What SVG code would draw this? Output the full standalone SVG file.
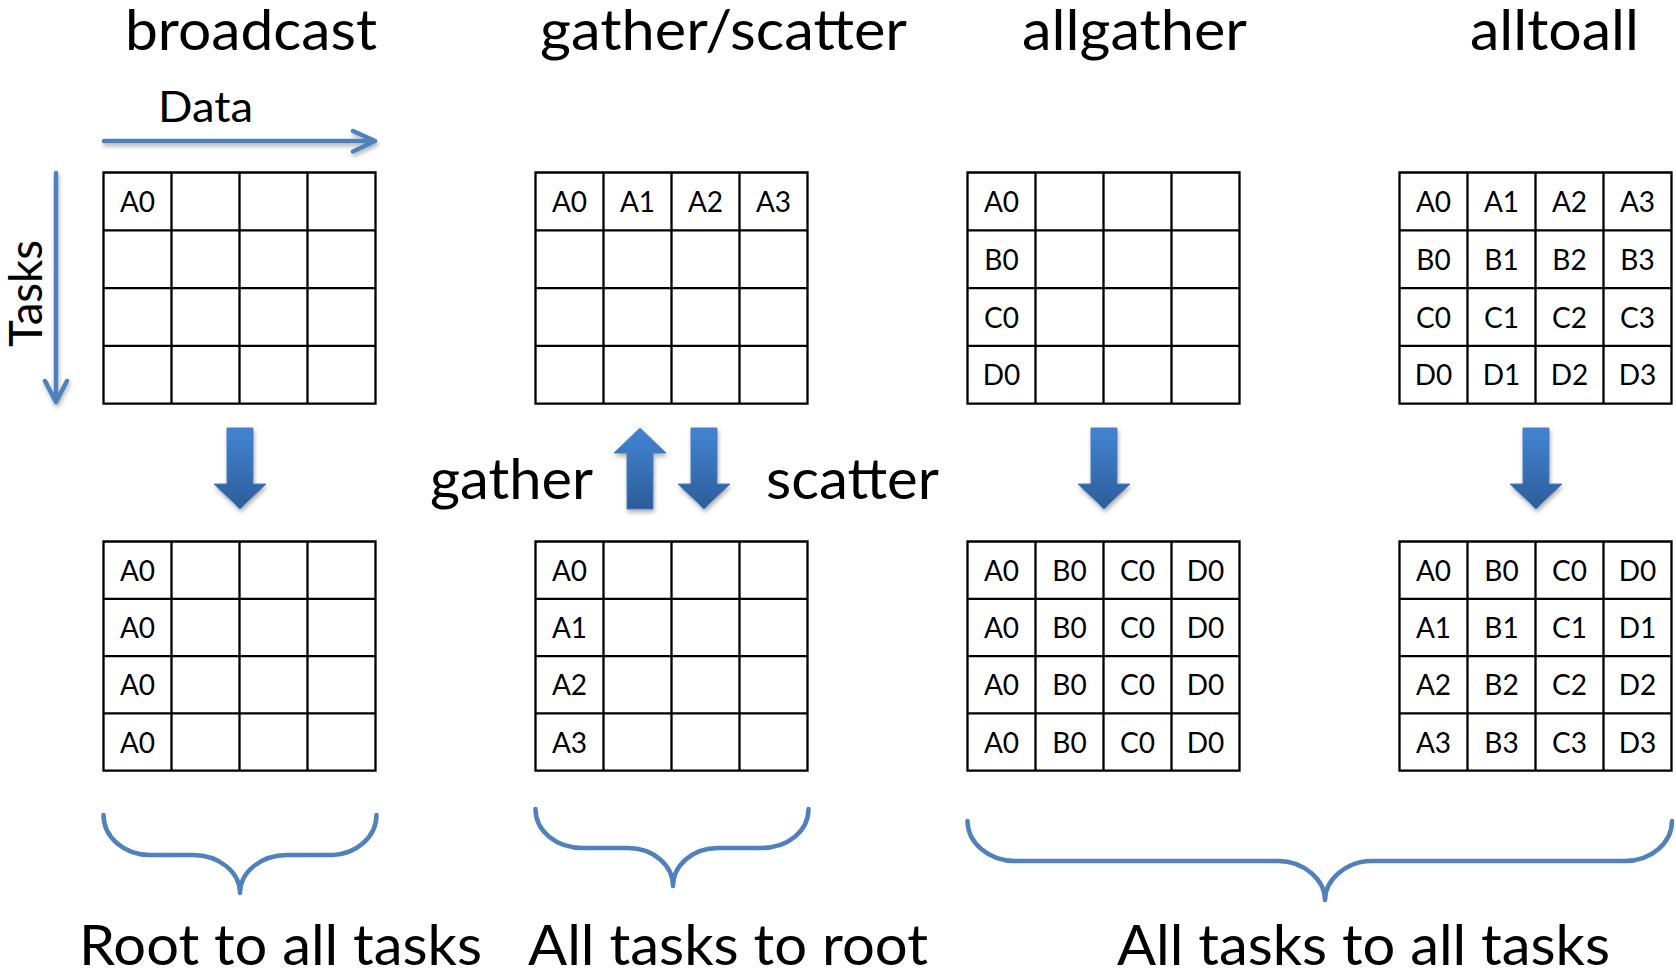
<svg xmlns="http://www.w3.org/2000/svg" xmlns:xlink="http://www.w3.org/1999/xlink" width="1676" height="972" viewBox="0 0 1676 972">
<style>
text{font-family:Lato,"Open Sans","Liberation Sans",sans-serif;fill:#000}
.cell{font-size:28px;text-anchor:middle}
.title{font-size:56px}
.big{font-size:57px}
.grid{fill:none;stroke:#000;stroke-width:2.3;stroke-linecap:square}
.blue{fill:none;stroke:#4F81BD;stroke-width:4.5;stroke-linecap:round;stroke-linejoin:round}
.block{fill:url(#bg);stroke:#4A7EBB;stroke-width:1}
</style>
<defs>
<linearGradient id="bg" x1="0" y1="0" x2="0" y2="1">
<stop offset="0" stop-color="#4285D4"/>
<stop offset="1" stop-color="#2D5C9A"/>
</linearGradient>
<filter id="sh" x="-30%" y="-30%" width="160%" height="160%">
<feDropShadow dx="1" dy="3" stdDeviation="2" flood-color="#000" flood-opacity="0.3"/>
</filter>
<path id="gT" class="grid" d="M0,0H272V231.2H0Z M68,0V231.2 M136,0V231.2 M204,0V231.2 M0,57.8H272 M0,115.6H272 M0,173.4H272"/>
<path id="gB" class="grid" d="M0,0H272V229.2H0Z M68,0V229.2 M136,0V229.2 M204,0V229.2 M0,57.3H272 M0,114.6H272 M0,171.9H272"/>
<path id="down" class="block" d="M-13,0H13V56H26L0,81L-26,56H-13Z"/>
<path id="up" class="block" d="M0,0L26,25H13V81H-13V25H-26Z"/>
</defs>

<g id="titles">
<text class="title" x="125" y="50" textLength="252" lengthAdjust="spacingAndGlyphs">broadcast</text>
<text class="title" x="540" y="50" textLength="367" lengthAdjust="spacingAndGlyphs">gather/scatter</text>
<text class="title" x="1022" y="50" textLength="225" lengthAdjust="spacingAndGlyphs">allgather</text>
<text class="title" x="1470" y="50" textLength="169" lengthAdjust="spacingAndGlyphs">alltoall</text>
</g>

<g id="axes">
<text x="158" y="122" font-size="43" textLength="95" lengthAdjust="spacingAndGlyphs">Data</text>
<text transform="translate(42,347) rotate(-90)" font-size="46" textLength="107" lengthAdjust="spacingAndGlyphs">Tasks</text>
<g filter="url(#sh)">
<path class="blue" d="M104,141H374 M353,131L375,141L353,151.5"/>
<path class="blue" d="M56,173V401 M45,381L56,402L67,381"/>
</g>
</g>

<g id="broadcast-before" transform="translate(103.5,172.5)">
<use xlink:href="#gT"/>
<text class="cell" x="34" y="39.4">A0</text>
</g>
<g id="gather-before" transform="translate(535.5,172.5)">
<use xlink:href="#gT"/>
<text class="cell" x="34" y="39.4">A0</text>
<text class="cell" x="102" y="39.4">A1</text>
<text class="cell" x="170" y="39.4">A2</text>
<text class="cell" x="238" y="39.4">A3</text>
</g>
<g id="allgather-before" transform="translate(967.5,172.5)">
<use xlink:href="#gT"/>
<text class="cell" x="34" y="39.4">A0</text>
<text class="cell" x="34" y="97.2">B0</text>
<text class="cell" x="34" y="155">C0</text>
<text class="cell" x="34" y="212.8">D0</text>
</g>
<g id="alltoall-before" transform="translate(1399.5,172.5)">
<use xlink:href="#gT"/>
<text class="cell" x="34" y="39.4">A0</text><text class="cell" x="102" y="39.4">A1</text><text class="cell" x="170" y="39.4">A2</text><text class="cell" x="238" y="39.4">A3</text>
<text class="cell" x="34" y="97.2">B0</text><text class="cell" x="102" y="97.2">B1</text><text class="cell" x="170" y="97.2">B2</text><text class="cell" x="238" y="97.2">B3</text>
<text class="cell" x="34" y="155">C0</text><text class="cell" x="102" y="155">C1</text><text class="cell" x="170" y="155">C2</text><text class="cell" x="238" y="155">C3</text>
<text class="cell" x="34" y="212.8">D0</text><text class="cell" x="102" y="212.8">D1</text><text class="cell" x="170" y="212.8">D2</text><text class="cell" x="238" y="212.8">D3</text>
</g>

<g id="broadcast-after" transform="translate(103.5,541.5)">
<use xlink:href="#gB"/>
<text class="cell" x="34" y="39.2">A0</text>
<text class="cell" x="34" y="96.5">A0</text>
<text class="cell" x="34" y="153.8">A0</text>
<text class="cell" x="34" y="211.1">A0</text>
</g>
<g id="gather-after" transform="translate(535.5,541.5)">
<use xlink:href="#gB"/>
<text class="cell" x="34" y="39.2">A0</text>
<text class="cell" x="34" y="96.5">A1</text>
<text class="cell" x="34" y="153.8">A2</text>
<text class="cell" x="34" y="211.1">A3</text>
</g>
<g id="allgather-after" transform="translate(967.5,541.5)">
<use xlink:href="#gB"/>
<text class="cell" x="34" y="39.2">A0</text><text class="cell" x="102" y="39.2">B0</text><text class="cell" x="170" y="39.2">C0</text><text class="cell" x="238" y="39.2">D0</text>
<text class="cell" x="34" y="96.5">A0</text><text class="cell" x="102" y="96.5">B0</text><text class="cell" x="170" y="96.5">C0</text><text class="cell" x="238" y="96.5">D0</text>
<text class="cell" x="34" y="153.8">A0</text><text class="cell" x="102" y="153.8">B0</text><text class="cell" x="170" y="153.8">C0</text><text class="cell" x="238" y="153.8">D0</text>
<text class="cell" x="34" y="211.1">A0</text><text class="cell" x="102" y="211.1">B0</text><text class="cell" x="170" y="211.1">C0</text><text class="cell" x="238" y="211.1">D0</text>
</g>
<g id="alltoall-after" transform="translate(1399.5,541.5)">
<use xlink:href="#gB"/>
<text class="cell" x="34" y="39.2">A0</text><text class="cell" x="102" y="39.2">B0</text><text class="cell" x="170" y="39.2">C0</text><text class="cell" x="238" y="39.2">D0</text>
<text class="cell" x="34" y="96.5">A1</text><text class="cell" x="102" y="96.5">B1</text><text class="cell" x="170" y="96.5">C1</text><text class="cell" x="238" y="96.5">D1</text>
<text class="cell" x="34" y="153.8">A2</text><text class="cell" x="102" y="153.8">B2</text><text class="cell" x="170" y="153.8">C2</text><text class="cell" x="238" y="153.8">D2</text>
<text class="cell" x="34" y="211.1">A3</text><text class="cell" x="102" y="211.1">B3</text><text class="cell" x="170" y="211.1">C3</text><text class="cell" x="238" y="211.1">D3</text>
</g>

<g id="connectors" filter="url(#sh)">
<use xlink:href="#down" transform="translate(240,428)"/>
<use xlink:href="#up" transform="translate(640,428)"/>
<use xlink:href="#down" transform="translate(704,428)"/>
<use xlink:href="#down" transform="translate(1104,428)"/>
<use xlink:href="#down" transform="translate(1536,428)"/>
</g>

<g id="gs-labels">
<text class="title" x="430" y="499" textLength="163" lengthAdjust="spacingAndGlyphs">gather</text>
<text class="title" x="766" y="499" textLength="173" lengthAdjust="spacingAndGlyphs">scatter</text>
</g>

<g id="braces">
<path class="blue" d="M103.5,815C103.5,837 124,855 150,855L193,855C219,855 240,872 240,893C240,872 261,855 287,855L330,855C356,855 376.5,837 376.5,815"/>
<path class="blue" d="M535.5,809C535.5,831 556,848 583,848L628,848C654,848 673,866 673,886C673,866 692,848 718,848L761,848C788,848 808.5,831 808.5,809"/>
<path class="blue" d="M967.5,821C967.5,843 989,861 1015,861L1278,861C1304,861 1325,880 1325,900C1325,880 1346,861 1372,861L1625,861C1651,861 1672,843 1672,821"/>
</g>

<g id="bottom-labels">
<text class="big" x="79" y="965" textLength="403" lengthAdjust="spacingAndGlyphs">Root to all tasks</text>
<text class="big" x="528" y="965" textLength="400" lengthAdjust="spacingAndGlyphs">All tasks to root</text>
<text class="big" x="1117" y="965" textLength="493" lengthAdjust="spacingAndGlyphs">All tasks to all tasks</text>
</g>
</svg>
